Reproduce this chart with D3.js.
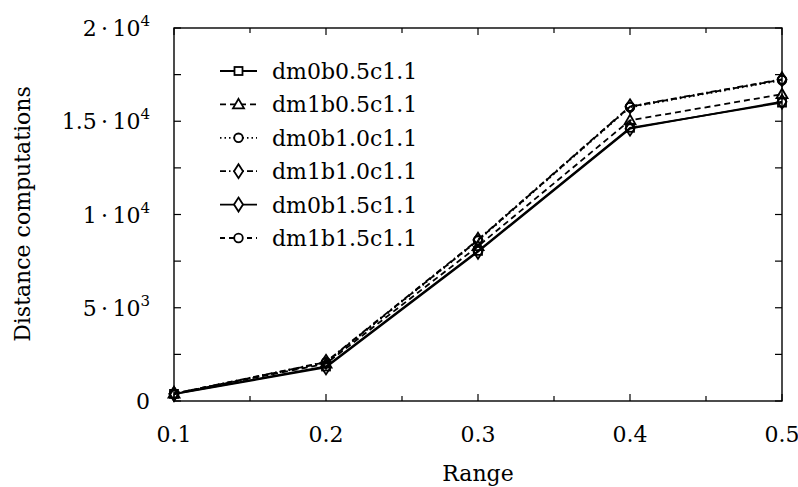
<!DOCTYPE html>
<html>
<head>
<meta charset="utf-8">
<script src="https://cdn.jsdelivr.net/npm/d3@7"></script>
<style>
  html, body { margin: 0; padding: 0; background: #fff; }
  svg { display: block; }
</style>
</head>
<body>
<svg id="chart" width="798" height="487"></svg>
<script>
// Range values on the x axis
const ranges = [0.1, 0.2, 0.3, 0.4, 0.5];

// Distance computations per configuration
const dm0b05 = [380, 1850, 8050, 14650, 16000];
const dm1b05 = [400, 2000, 8300, 15050, 16450];
const dm0b10 = [380, 2050, 8600, 15750, 17200];
const dm1b10 = [390, 2100, 8650, 15800, 17250];
const dm0b15 = [370, 1800, 8000, 14600, 16050];
const dm1b15 = [390, 2080, 8620, 15780, 17230];

const seriesNames = ["dm0b0.5c1.1", "dm1b0.5c1.1", "dm0b1.0c1.1", "dm1b1.0c1.1", "dm0b1.5c1.1", "dm1b1.5c1.1"];
const seriesValues = [dm0b05, dm1b05, dm0b10, dm1b10, dm0b15, dm1b15];
const seriesDash = ["none", "6,4", "1.5,3", "6,3,1.5,3", "none", "5,4"];
const seriesMarker = ["square", "triangle", "circle", "diamond", "diamond", "circle"];

// Axis ticks
const xTickValues = [0.1, 0.2, 0.3, 0.4, 0.5];
const xMinorTicks = [0.15, 0.25, 0.35, 0.45];
const yTickValues = [0, 5000, 10000, 15000, 20000];
const yTickMant = ["0", "5", "1", "1.5", "2"];
const yTickExp = ["", "3", "4", "4", "4"];
const yMinorTicks = [2500, 7500, 12500, 17500];

const FONT = "'DejaVu Serif', serif";
const FS = 22;

const svg = d3.select("#chart").attr("font-family", FONT);
const L = 174, R = 782, T = 28, B = 401;

const x = d3.scaleLinear().domain([0.1, 0.5]).range([L, R]);
const y = d3.scaleLinear().domain([0, 20000]).range([B, T]);

// frame
svg.append("rect").attr("x", L).attr("y", T).attr("width", R - L).attr("height", B - T)
  .attr("fill", "none").attr("stroke", "#000").attr("stroke-width", 1.4);

// inward ticks on all four sides
const tickG = svg.append("g").attr("stroke", "#000").attr("stroke-width", 1.2);
function xTick(v, len) {
  tickG.append("line").attr("x1", x(v)).attr("x2", x(v)).attr("y1", B).attr("y2", B - len);
  tickG.append("line").attr("x1", x(v)).attr("x2", x(v)).attr("y1", T).attr("y2", T + len);
}
function yTick(v, len) {
  tickG.append("line").attr("y1", y(v)).attr("y2", y(v)).attr("x1", L).attr("x2", L + len);
  tickG.append("line").attr("y1", y(v)).attr("y2", y(v)).attr("x1", R).attr("x2", R - len);
}
xTickValues.forEach(v => xTick(v, 7));
xMinorTicks.forEach(v => xTick(v, 5));
yTickValues.forEach(v => yTick(v, 7));
yMinorTicks.forEach(v => yTick(v, 7));

// x tick labels
svg.append("g").selectAll("text").data(xTickValues).join("text")
  .attr("x", d => x(d)).attr("y", 442)
  .attr("text-anchor", "middle").attr("font-size", FS)
  .style("font-family", FONT)
  .text(d => d3.format(".1f")(d));

// y tick labels with powers of ten
yTickValues.forEach((v, i) => {
  const t = svg.append("text").attr("x", 150).attr("y", y(v) + 8)
    .attr("text-anchor", "end").attr("font-size", FS).style("font-family", FONT);
  if (yTickExp[i] === "") {
    t.text(yTickMant[i]);
  } else {
    t.append("tspan").text(yTickMant[i] + "\u2009\u00B7\u200910");
    t.append("tspan").attr("font-size", 15).attr("dy", -10).text(yTickExp[i]);
  }
});

// axis titles
svg.append("text").attr("x", (L + R) / 2).attr("y", 481).style("font-family", FONT)
  .attr("text-anchor", "middle").attr("font-size", FS).text("Range");
svg.append("text").attr("transform", "translate(30,214) rotate(-90)")
  .style("font-family", FONT)
  .attr("text-anchor", "middle").attr("font-size", FS).text("Distance computations");

// markers
function drawMarker(g, type, cx, cy) {
  const s = 4;
  if (type === "square") {
    g.append("rect").attr("x", cx - s).attr("y", cy - s).attr("width", 2 * s).attr("height", 2 * s);
  } else if (type === "triangle") {
    g.append("path").attr("d", `M${cx},${cy - 5.5}L${cx + 5.5},${cy + 4}L${cx - 5.5},${cy + 4}Z`);
  } else if (type === "circle") {
    g.append("circle").attr("cx", cx).attr("cy", cy).attr("r", 4.3);
  } else if (type === "diamond") {
    g.append("path").attr("d", `M${cx},${cy - 7}L${cx + 4.5},${cy}L${cx},${cy + 7}L${cx - 4.5},${cy}Z`);
  }
}

const line = d3.line().x((d, i) => x(ranges[i])).y(d => y(d));

seriesValues.forEach((vals, k) => {
  svg.append("path").datum(vals).attr("d", line)
    .attr("fill", "none").attr("stroke", "#000").attr("stroke-width", 1.8)
    .attr("stroke-dasharray", seriesDash[k]);
  const mg = svg.append("g").attr("fill", "none").attr("stroke", "#000").attr("stroke-width", 1.8);
  vals.forEach((v, i) => drawMarker(mg, seriesMarker[k], x(ranges[i]), y(v)));
});

// legend
const legX1 = 220, legX2 = 257, legY0 = 71, legDy = 33.4;
seriesNames.forEach((name, k) => {
  const yy = legY0 + k * legDy;
  svg.append("line").attr("x1", legX1).attr("x2", legX2).attr("y1", yy).attr("y2", yy)
    .attr("stroke", "#000").attr("stroke-width", 1.8).attr("stroke-dasharray", seriesDash[k]);
  const mg = svg.append("g").attr("fill", "#fff").attr("stroke", "#000").attr("stroke-width", 1.8);
  drawMarker(mg, seriesMarker[k], (legX1 + legX2) / 2, yy);
  svg.append("text").attr("x", 272).attr("y", yy + 8).attr("font-size", FS)
    .style("font-family", FONT).text(name);
});
</script>
</body>
</html>
